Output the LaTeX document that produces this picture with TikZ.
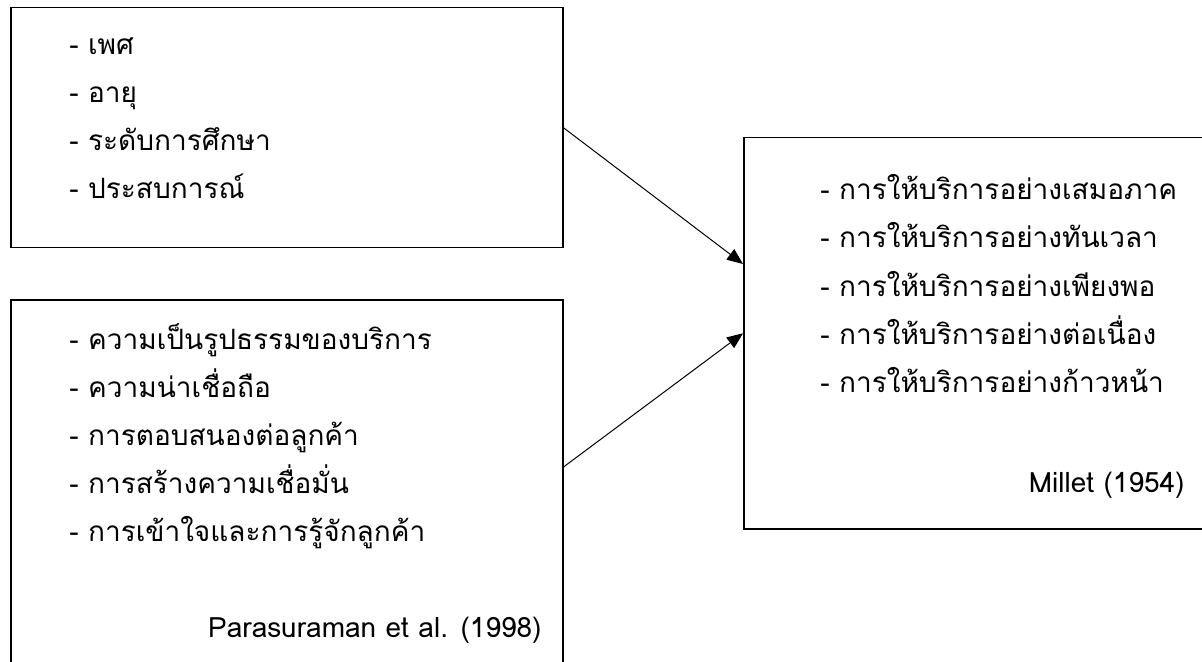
\documentclass[tikz,border=0pt]{standalone}
\usepackage{fontspec}
\setmainfont[Script=Thai]{Loma}
\usetikzlibrary{arrows.meta,calc}

\tikzset{
frame/.style={draw, line width=0.75pt, anchor=north west, inner sep=0pt},
item/.style={anchor=base west, inner sep=0pt, font=\fontsize{14}{16}\selectfont},
source/.style={anchor=base east, inner sep=0pt, font=\fontsize{14}{16}\selectfont},
link/.style={line width=0.5pt, -{Triangle[length=8pt,width=6.5pt]}},
}

\begin{document}
\begin{tikzpicture}[x=0.5pt,y=-0.5pt]
\useasboundingbox (0,0) rectangle (1202,662);
\clip (0,0) rectangle (1202,662);
\node[frame, minimum width=276pt, minimum height=120pt] (demog) at (10,7) {};
\node[frame, minimum width=276pt, minimum height=200pt] (servqual) at (10,299) {};
\node[frame, minimum width=260pt, minimum height=195.5pt] (millet) at (743,137) {};
\foreach \txt [count=\i] in {เพศ, อายุ, ระดับการศึกษา, ประสบการณ์}
  \node[item] (d\i) at (69,7+48*\i) {- \txt};
\foreach \txt [count=\i] in {ความเป็นรูปธรรมของบริการ, ความน่าเชื่อถือ,
  การตอบสนองต่อลูกค้า, การสร้างความเชื่อมั่น, การเข้าใจและการรู้จักลูกค้า}
  \node[item] (s\i) at (69,301+48*\i) {- \txt};
\foreach \txt [count=\i] in {เสมอภาค, ทันเวลา, เพียงพอ, ต่อเนื่อง, ก้าวหน้า}
  \node[item] (m\i) at (820,152+48*\i) {- การให้บริการอย่าง\txt};
\node[source] (sref) at (542,637) {Parasuraman et al. (1998)};
\node[source] (mref) at (1185,492) {Millet (1954)};
\coordinate (din) at ($(millet.north west)+(0,127)$);
\coordinate (sout) at ($(servqual.north east)+(0,168)$);
\draw[link] (demog.east) -- (din);
\draw[link] (sout) -- (millet.west);
\end{tikzpicture}
\end{document}
